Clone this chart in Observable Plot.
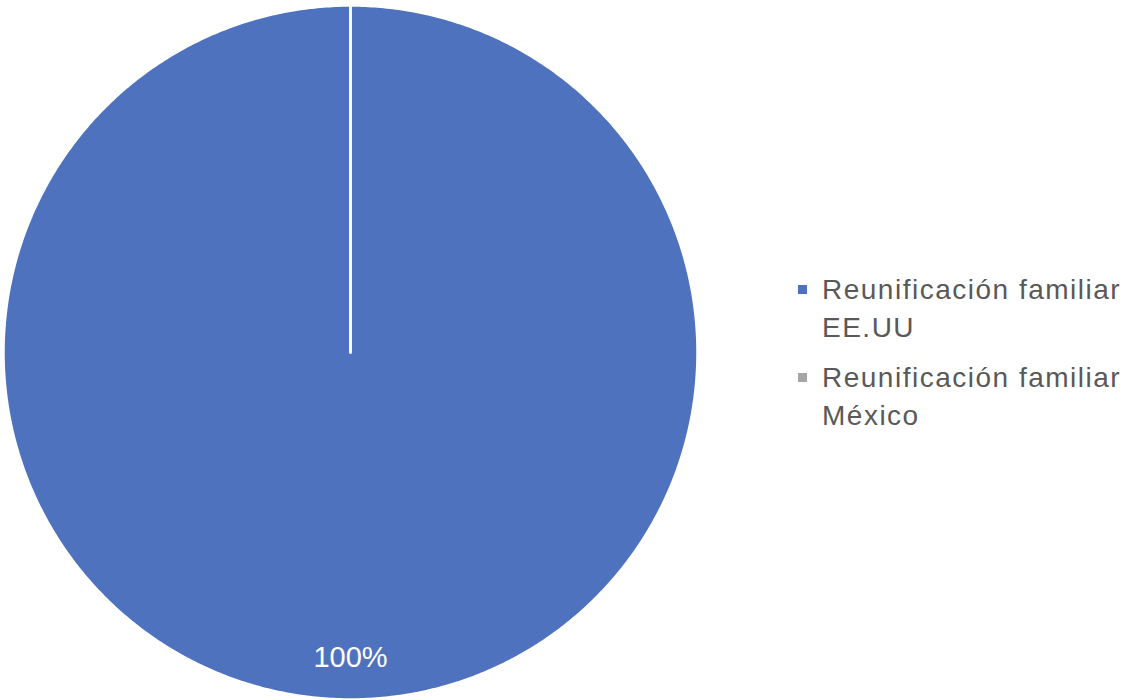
<!DOCTYPE html>
<html>
<head>
<meta charset="utf-8">
<script src="https://cdn.jsdelivr.net/npm/d3@7"></script>
<script src="https://cdn.jsdelivr.net/npm/@observablehq/plot@0.6"></script>
<style>
  html, body { margin: 0; padding: 0; background: #fff; }
  #wrap { position: relative; width: 1127px; height: 700px; }
  #legend { position: absolute; left: 798px; top: 271px; font-family: "Liberation Sans", Arial, sans-serif; font-size: 28px; letter-spacing: 1.5px; color: #595959; line-height: 38px; white-space: nowrap; }
  .item { position: relative; padding-left: 24px; margin-bottom: 12px; }
  .sw { position: absolute; left: 0; top: 14px; width: 9px; height: 9px; }
</style>
</head>
<body>
<div id="wrap"></div>
<script>
const categories = ["Reunificación familiar EE.UU", "Reunificación familiar México"];
const legendLines = [["Reunificación familiar", "EE.UU"], ["Reunificación familiar", "México"]];
const values = [100, 0];
const labels = ["100%", "0%"];
const colors = ["#4F72BF", "#A5A5A5"];

const data = categories.map((c, i) => ({category: c, value: values[i], label: labels[i]}));
const arcs = d3.pie().sort(null).value(d => d.value)(data);

const polys = [];
arcs.forEach(a => {
  const n = Math.max(2, Math.ceil((a.endAngle - a.startAngle) / (Math.PI / 360)));
  polys.push({category: a.data.category, x: 0, y: 0});
  for (let k = 0; k <= n; k++) {
    const t = a.startAngle + (a.endAngle - a.startAngle) * k / n;
    polys.push({category: a.data.category, x: Math.sin(t), y: Math.cos(t)});
  }
  polys.push({category: a.data.category, x: 0, y: 0});
});

const labelR = 0.88;
const labelData = arcs.filter(a => a.data.value > 0).map(a => {
  const m = (a.startAngle + a.endAngle) / 2;
  return {label: a.data.label, x: labelR * Math.sin(m), y: labelR * Math.cos(m)};
});

const chart = Plot.plot({
  width: 1127,
  height: 700,
  marginLeft: 3,
  marginRight: 430,
  marginTop: 5,
  marginBottom: 1,
  x: {domain: [-1, 1], axis: null},
  y: {domain: [-1, 1], axis: null},
  color: {domain: categories, range: colors},
  style: {background: "#fff"},
  marks: [
    Plot.line(polys, {x: "x", y: "y", z: "category", fill: "category", stroke: "#fff", strokeWidth: 2.5, curve: "linear"}),
    Plot.text(labelData, {x: "x", y: "y", text: "label", fill: "#fff", fontSize: 29, fontFamily: "Liberation Sans, Arial, sans-serif"})
  ]
});
const wrap = document.getElementById("wrap");
wrap.appendChild(chart);

const legend = document.createElement("div");
legend.id = "legend";
categories.forEach((c, i) => {
  const item = document.createElement("div");
  item.className = "item";
  const sw = document.createElement("span");
  sw.className = "sw";
  sw.style.background = colors[i];
  item.appendChild(sw);
  item.appendChild(document.createTextNode(legendLines[i][0]));
  item.appendChild(document.createElement("br"));
  item.appendChild(document.createTextNode(legendLines[i][1]));
  legend.appendChild(item);
});
wrap.appendChild(legend);
</script>
</body>
</html>
